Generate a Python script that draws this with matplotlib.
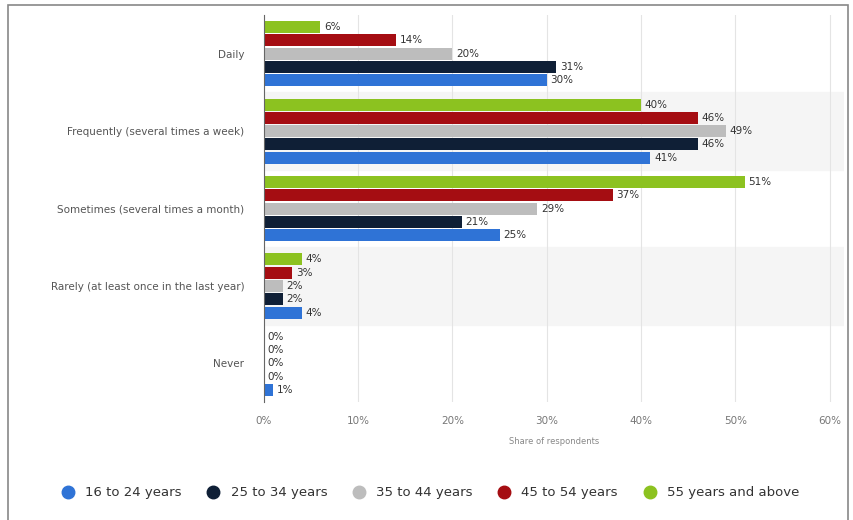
import matplotlib.pyplot as plt
from matplotlib.patches import Rectangle
from matplotlib.lines import Line2D

categories = ["Daily", "Frequently (several times a week)", "Sometimes (several times a month)",
              "Rarely (at least once in the last year)", "Never"]
groups = ["16 to 24 years", "25 to 34 years", "35 to 44 years", "45 to 54 years", "55 years and above"]
colors = ["#2f73d6", "#0f1f36", "#bdbdbd", "#a50d12", "#8cc220"]

age_16_24 = [30, 41, 25, 4, 1]
age_25_34 = [31, 46, 21, 2, 0]
age_35_44 = [20, 49, 29, 2, 0]
age_45_54 = [14, 46, 37, 3, 0]
age_55_up = [6, 40, 51, 4, 0]
series = [age_16_24, age_25_34, age_35_44, age_45_54, age_55_up]

fig = plt.figure(figsize=(8.54, 5.2), dpi=100)
ax = fig.add_axes([0.309, 0.227, 0.679, 0.744])

# light banding on every other category
for i in range(len(categories)):
    if i % 2 == 1:
        ax.axhspan(i - 0.5, i + 0.5, color="#f5f5f5", zorder=0)

step = 0.172
height = 0.155
for j, vals in enumerate(series):
    offset = (2 - j) * step  # 16-24 at bottom, 55+ at top
    for i, v in enumerate(vals):
        y = i + offset
        ax.barh(y, v, height=height, color=colors[j], zorder=3)
        ax.text(v + 0.4, y, f"{v}%", va="center", ha="left", fontsize=7.5, color="#333333", zorder=4)

ax.set_ylim(len(categories) - 0.5, -0.5)
ax.set_xlim(0, 61.5)
ax.set_xticks(range(0, 61, 10))
ax.set_xticklabels([f"{t}%" for t in range(0, 61, 10)], fontsize=7.5, color="#777777")
ax.set_yticks(range(len(categories)))
ax.set_yticklabels(categories, fontsize=7.5, color="#555555")
ax.tick_params(axis="both", length=0)
ax.tick_params(axis="x", pad=10)
ax.tick_params(axis="y", pad=14)
ax.grid(axis="x", color="#e4e4e4", linewidth=0.8, zorder=1)
for s in ["top", "right", "bottom"]:
    ax.spines[s].set_visible(False)
ax.spines["left"].set_color("#666666")
ax.spines["left"].set_zorder(5)
ax.set_xlabel("Share of respondents", fontsize=6, color="#888888", labelpad=8)

handles = [Line2D([0], [0], marker="o", linestyle="", markersize=9, color=c) for c in colors]
fig.legend(handles, groups, loc="center", bbox_to_anchor=(0.5, 0.052), ncol=5, frameon=False,
           fontsize=9.5, handletextpad=0.3, columnspacing=1.4, labelcolor="#333333")

fig.patches.append(Rectangle((0.009, -0.01), 0.984, 1.0, transform=fig.transFigure,
                             fill=False, edgecolor="#888888", linewidth=1.2))

fig.savefig("out.png", dpi=100)
